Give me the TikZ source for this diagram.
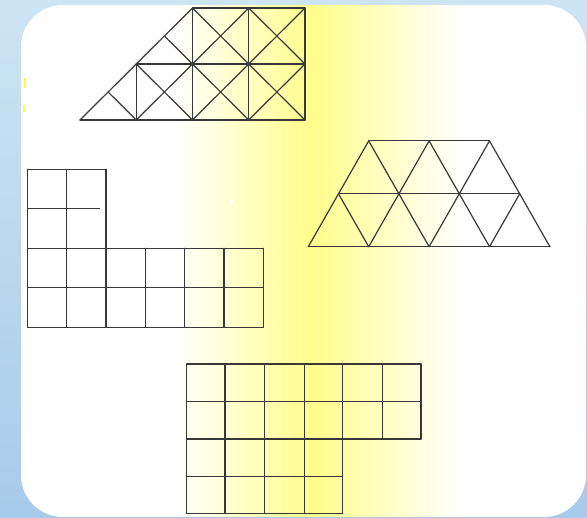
\documentclass[tikz,border=0pt]{standalone}
\usetikzlibrary{calc}
\definecolor{bgtop}{HTML}{CDE4F3}
\definecolor{bgbot}{HTML}{A6CBEA}
\definecolor{band}{HTML}{FFFD8A}
\tikzset{gridline/.style={draw=black!78, line width=1.2pt, line cap=round, line join=round}}
\begin{document}
\begin{tikzpicture}[x=1pt,y=-1pt]
\useasboundingbox (0,0) rectangle (587,518);
% outer background
\shade[top color=bgtop, bottom color=bgbot] (0,0) rectangle (587,518);
% white card with yellow band
\begin{scope}
  \clip[rounded corners=42pt] (21,5) rectangle (586,517);
  \fill[white] (21,5) rectangle (586,517);
  \shade[left color=white, right color=band] (175,5) rectangle (312,517);
  \shade[left color=band, right color=white] (311,5) rectangle (462,517);
\end{scope}
% small artefacts
\fill[yellow!70] (23.5,78) rectangle (25.5,88);
\fill[yellow!70] (23,105) rectangle (25,112);
\fill[white] (232,202) circle (2.2);

% top figure: squares with diagonals
\begin{scope}[xshift=80pt, yshift=-120pt, x=56.25pt, y=56pt]
  \draw[gridline] (0,0) -- (4,0) (1,1) -- (4,1) (2,2) -- (4,2);
  \draw[gridline] (1,0) -- (1,1) (2,0) -- (2,2) (3,0) -- (3,2) (4,0) -- (4,2);
  \draw[gridline] (0,0) -- (2,2) (1,0) -- (3,2) (2,0) -- (4,2) (3,0) -- (4,1);
  \draw[gridline] (0.5,0.5) -- (1,0) (1,1) -- (2,0) (1.5,1.5) -- (3,0) (2,2) -- (4,0) (3,2) -- (4,1);
\end{scope}

% triangle trapezoid
\begin{scope}[xshift=308.3pt, yshift=-246.7pt, x=60.4pt, y=52.9pt]
  \draw[gridline] (0,0) -- (4,0) (0.5,1) -- (3.5,1) (1,2) -- (3,2);
  \draw[gridline] (0,0) -- (1,2) (1,0) -- (2,2) (2,0) -- (3,2) (3,0) -- (3.5,1);
  \draw[gridline] (0.5,1) -- (1,0) (1,2) -- (2,0) (2,2) -- (3,0) (3,2) -- (4,0);
\end{scope}

% L-shaped grid
\draw[gridline] (27.7,169.3) -- (106,169.3);
\draw[gridline] (27.7,208.7) -- (99.5,208.7);
\foreach \yy in {248.3,287.7,327.3} \draw[gridline] (27.7,\yy) -- (263.3,\yy);
\foreach \xx in {27.7,66.7,106} \draw[gridline] (\xx,169.3) -- (\xx,327.3);
\foreach \xx in {145.3,184.7,224,263.3} \draw[gridline] (\xx,248.3) -- (\xx,327.3);

% bottom grid
\foreach \yy in {364,401.7,439} \draw[gridline] (186.7,\yy) -- (421,\yy);
\foreach \yy in {476.7,513.3} \draw[gridline] (186.7,\yy) -- (342.7,\yy);
\foreach \xx in {186.7,225,264.7,304.3,342.7} \draw[gridline] (\xx,364) -- (\xx,513.3);
\foreach \xx in {382.3,421} \draw[gridline] (\xx,364) -- (\xx,439);
\end{tikzpicture}
\end{document}
